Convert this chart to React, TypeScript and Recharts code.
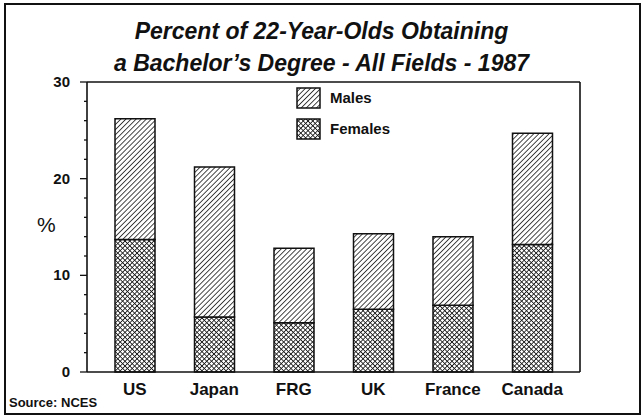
import { BarChart, Bar, XAxis, YAxis, ReferenceLine } from "recharts";

const countries = ["US", "Japan", "FRG", "UK", "France", "Canada"];
const females = [13.7, 5.7, 5.1, 6.5, 6.9, 13.2];
const males = [12.5, 15.5, 7.7, 7.8, 7.1, 11.5];
const yTicks = [0, 2, 4, 6, 8, 10, 12, 14, 16, 18, 20, 22, 24, 26, 28, 30];

const series = [
	{ key: "males", name: "Males", fill: "url(#hatch)" },
	{ key: "females", name: "Females", fill: "url(#cross)" },
];

const data = countries.map((c, i) => ({
	name: c,
	females: females[i],
	males: males[i],
}));

const FONT = '"Liberation Sans", Arial, Helvetica, sans-serif';
const INK = "#111";

function LeftTick(props: any) {
	const { x, y, payload } = props;
	const major = payload.value % 10 === 0;
	return (
		<g>
			<line x1={x - (major ? 7 : 3)} x2={x} y1={y} y2={y} stroke={INK} strokeWidth={1.3} />
			{major && (
				<text x={x - 17} y={y} dy={5} textAnchor="end" fontFamily={FONT} fontWeight="bold" fontSize={15} fill={INK}>
					{payload.value}
				</text>
			)}
		</g>
	);
}

function RightTick(props: any) {
	const { x, y, payload } = props;
	const major = payload.value % 10 === 0;
	if (payload.value === 0 || payload.value === 30) return <g />;
	return <line x1={x + 2} x2={x + (major ? 10 : 6)} y1={y} y2={y} stroke={INK} strokeWidth={1.3} />;
}

function CountryTick(props: any) {
	const { x, y, payload } = props;
	return (
		<text x={x} y={y} dy={15} textAnchor="middle" fontFamily={FONT} fontWeight="bold" fontSize={17} fill={INK}>
			{payload.value}
		</text>
	);
}

function Patterns() {
	return (
		<defs>
			<pattern id="hatch" patternUnits="userSpaceOnUse" width={3.6} height={3.6} patternTransform="rotate(45)">
				<rect width={3.6} height={3.6} fill="#fff" />
				<line x1={0} y1={0} x2={0} y2={3.6} stroke="#1a1a1a" strokeWidth={1.6} />
			</pattern>
			<pattern id="cross" patternUnits="userSpaceOnUse" width={3.4} height={3.4} patternTransform="rotate(45)">
				<rect width={3.4} height={3.4} fill="#fff" />
				<line x1={0} y1={0} x2={0} y2={3.4} stroke="#1a1a1a" strokeWidth={1.7} />
				<line x1={0} y1={0} x2={3.4} y2={0} stroke="#1a1a1a" strokeWidth={1.7} />
			</pattern>
		</defs>
	);
}

function LegendBox() {
	return (
		<div style={{ fontFamily: FONT, fontWeight: "bold", fontSize: 15, color: INK }}>
			{series.map((s) => (
				<div key={s.key} style={{ display: "flex", alignItems: "center", height: 31 }}>
					<svg width={25} height={22} style={{ marginRight: 9 }}>
						<rect x={1} y={1} width={23} height={20} fill={s.fill} stroke={INK} strokeWidth={1.5} />
					</svg>
					{s.name}
				</div>
			))}
		</div>
	);
}

export default function App() {
	return (
		<div style={{ position: "fixed", left: 0, top: 0, width: 643, height: 416, background: "#fff" }}>
			<div
				style={{
					position: "absolute",
					left: 4,
					top: 3,
					width: 633,
					height: 408,
					border: `2px solid ${INK}`,
				}}
			/>
			<div
				style={{
					position: "absolute",
					left: 0,
					top: 15,
					width: 643,
					textAlign: "center",
					fontFamily: FONT,
					fontWeight: "bold",
					fontStyle: "italic",
					fontSize: 23,
					lineHeight: "32px",
					color: INK,
				}}
			>
				Percent of 22-Year-Olds Obtaining
				<br />a Bachelor’s Degree - All Fields - 1987
			</div>
			<div style={{ position: "absolute", left: 37, top: 213, fontFamily: FONT, fontSize: 21, color: INK }}>%</div>
			<div style={{ position: "absolute", left: 9, top: 395, fontFamily: FONT, fontWeight: "bold", fontSize: 13, color: INK }}>
				Source: NCES
			</div>
			<div style={{ position: "absolute", left: 0, top: 0 }}>
				<BarChart width={643} height={416} data={data} margin={{ top: 82, right: 43, left: 47, bottom: 14 }} barSize={40}>
					<Patterns />
					<XAxis
						dataKey="name"
						tickLine={false}
						axisLine={{ stroke: INK, strokeWidth: 1.6 }}
						tick={<CountryTick />}
						height={30}
						padding={{ left: 8, right: 8 }}
						interval={0}
					/>
					<YAxis
						yAxisId="left"
						domain={[0, 30]}
						ticks={yTicks}
						interval={0}
						width={40}
						tickLine={false}
						tickSize={0}
						tickMargin={0}
						axisLine={{ stroke: INK, strokeWidth: 1.6 }}
						tick={<LeftTick />}
					/>
					<YAxis
						yAxisId="right"
						orientation="right"
						domain={[0, 30]}
						ticks={yTicks}
						interval={0}
						width={20}
						tickLine={false}
						tickSize={0}
						tickMargin={0}
						axisLine={{ stroke: INK, strokeWidth: 1.6 }}
						tick={<RightTick />}
					/>
					<ReferenceLine yAxisId="left" y={30} stroke={INK} strokeWidth={1.6} />
					<Bar yAxisId="left" dataKey="females" name="Females" stackId="a" fill="url(#cross)" stroke={INK} strokeWidth={1.5} isAnimationActive={false} />
					<Bar yAxisId="left" dataKey="males" name="Males" stackId="a" fill="url(#hatch)" stroke={INK} strokeWidth={1.5} isAnimationActive={false} />
				</BarChart>
			</div>
			<div style={{ position: "absolute", left: 296, top: 82 }}>
				<LegendBox />
			</div>
		</div>
	);
}
